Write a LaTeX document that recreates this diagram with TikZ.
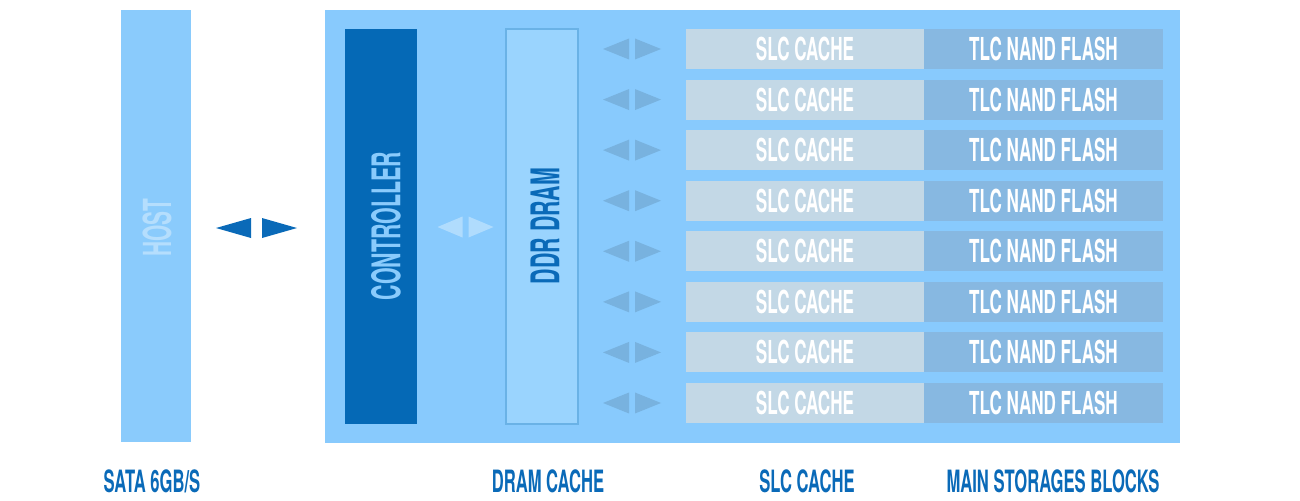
\documentclass[tikz,border=0pt]{standalone}
\usepackage{fontspec}
\newfontfamily\cond{TeX Gyre Heros}[FakeStretch=0.54]
\definecolor{hostc}{HTML}{8ACBFC}
\definecolor{panelc}{HTML}{88CAFD}
\definecolor{ctrlc}{HTML}{0569B6}
\definecolor{ddrc}{HTML}{9AD4FE}
\definecolor{ddrb}{HTML}{6AB2E6}
\definecolor{slcc}{HTML}{C3D8E6}
\definecolor{tlcc}{HTML}{87B8E1}
\definecolor{smallarr}{HTML}{78B2DF}
\definecolor{dramarr}{HTML}{B0DCFD}
\definecolor{darkblue}{HTML}{0A6AB8}
\definecolor{hosttext}{HTML}{B5DEFD}
\newcommand{\fsz}[1]{\fontsize{#1}{#1}\selectfont}
\newcommand{\arrowpair}[6]{% x, y, half gap, length, half height, colour
  \fill[#6] (#1-#3,#2-#5) -- (#1-#3,#2+#5) -- (#1-#3-#4,#2) -- cycle;
  \fill[#6] (#1+#3,#2-#5) -- (#1+#3,#2+#5) -- (#1+#3+#4,#2) -- cycle;}
\begin{document}
\begin{tikzpicture}[x=0.02cm,y=-0.02cm,
  box/.style={rectangle,inner sep=0pt,outer sep=0pt,anchor=north west},
  celltext/.style={text=white,font=\cond\bfseries\fsz{18}},
  labeltext/.style={text=darkblue,font=\cond\bfseries\fsz{17.5}}]
\useasboundingbox (0,0) rectangle (1300,500);
% host
\node[box,fill=hostc,minimum width={70*0.02cm},minimum height={432*0.02cm}] (host) at (121,10) {};
\node[rotate=90,text=hosttext,font=\cond\bfseries\fsz{22}] (hostt) at (157,228) {HOST};
% panel
\node[box,fill=panelc,minimum width={855*0.02cm},minimum height={433*0.02cm}] (panel) at (325,10) {};
% controller
\node[box,fill=ctrlc,minimum width={72*0.02cm},minimum height={395*0.02cm}] (ctrl) at (345,29) {};
\node[rotate=90,text=hostc,font=\cond\bfseries\fsz{22.5}] (ctrlt) at (386,226) {CONTROLLER};
% ddr
\node[box,fill=ddrc,draw=ddrb,line width=0.6pt,minimum width={72*0.02cm},minimum height={395*0.02cm}] (ddr) at (506,29) {};
\node[rotate=90,text=darkblue,font=\cond\bfseries\fsz{22.5}] (ddrt) at (545,226) {DDR DRAM};
% arrows
\arrowpair{256.5}{228}{5.5}{35}{10}{darkblue}
\arrowpair{465.5}{227}{3}{25}{10.5}{dramarr}
% rows
\foreach \i in {0,...,7}{
  \pgfmathsetmacro{\yt}{29+50.57*\i}
  \pgfmathsetmacro{\yc}{\yt+20}
  \node[box,fill=slcc,minimum width={238*0.02cm},minimum height={40*0.02cm},celltext] (slc\i) at (686,\yt) {SLC CACHE};
  \node[box,fill=tlcc,minimum width={239*0.02cm},minimum height={40*0.02cm},celltext] (tlc\i) at (924,\yt) {TLC NAND FLASH};
  \arrowpair{632}{\yc}{3}{26}{10.5}{smallarr}
}
% bottom labels
\node[labeltext] (l1) at (152,481) {SATA 6GB/S};
\node[labeltext] (l2) at (548,481) {DRAM CACHE};
\node[labeltext] (l3) at (807,481) {SLC CACHE};
\node[labeltext] (l4) at (1053,481) {MAIN STORAGES BLOCKS};
\end{tikzpicture}
\end{document}
